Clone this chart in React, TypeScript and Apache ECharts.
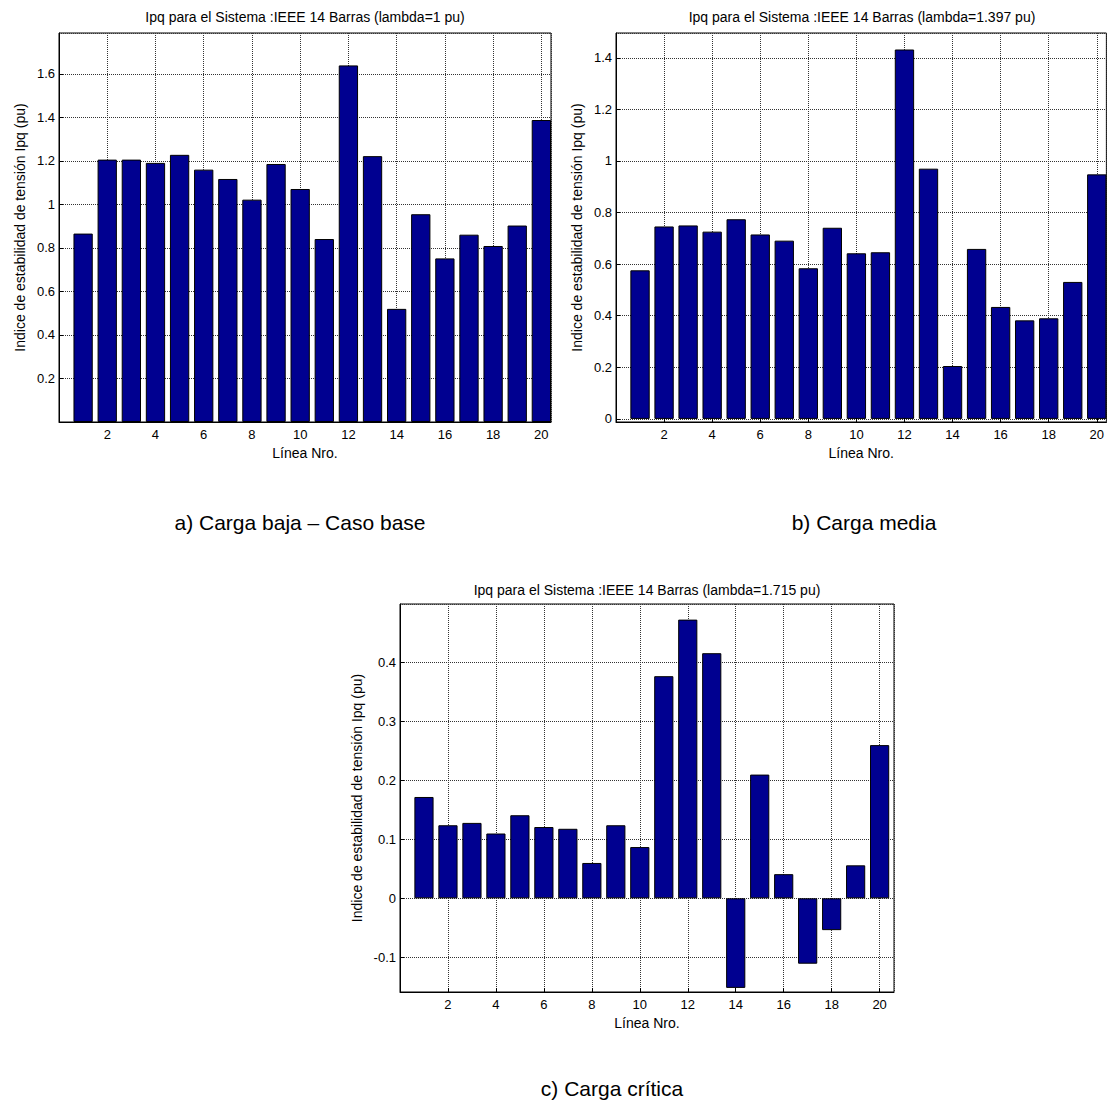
import React, { useEffect, useRef } from "react";
import * as echarts from "echarts";

// Línea numbers (x positions of the bars)
const lineas = [1, 2, 3, 4, 5, 6, 7, 8, 9, 10, 11, 12, 13, 14, 15, 16, 17, 18, 19, 20];

// Ipq per line, three loading levels
const ipqBase = [0.866, 1.206, 1.206, 1.191, 1.228, 1.16, 1.117, 1.022, 1.186, 1.071,
  0.841, 1.639, 1.222, 0.52, 0.955, 0.752, 0.861, 0.809, 0.903, 1.388];
const ipqMedia = [0.576, 0.746, 0.75, 0.726, 0.774, 0.715, 0.691, 0.584, 0.741, 0.642,
  0.646, 1.432, 0.97, 0.205, 0.659, 0.434, 0.382, 0.39, 0.531, 0.948];
const ipqCritica = [0.172, 0.124, 0.128, 0.11, 0.141, 0.121, 0.118, 0.06, 0.124, 0.087,
  0.377, 0.473, 0.416, -0.152, 0.21, 0.041, -0.111, -0.054, 0.056, 0.26];

const titulos = [
  "Ipq para el Sistema :IEEE 14 Barras (lambda=1 pu)",
  "Ipq para el Sistema :IEEE 14 Barras (lambda=1.397 pu)",
  "Ipq para el Sistema :IEEE 14 Barras (lambda=1.715 pu)",
];
const leyendas = ["a) Carga baja – Caso base", "b) Carga media", "c) Carga crítica"];
const nombreY = "Indice de estabilidad de tensión Ipq (pu)";
const nombreX = "Línea Nro.";

const FONT = "'Liberation Sans', Arial, Helvetica, sans-serif";
const BAR_COLOR = "#000090";
const TICK_SIZE = 13;
const TEXT_SIZE = 14;

type Panel = {
  left: number; top: number; width: number; height: number;
  xMax: number; yMin: number; yMax: number; yInterval?: number; ySplit?: number;
  data: number[]; nameGap: number;
};

const panels: Panel[] = [
  { left: 59, top: 33, width: 492, height: 389, xMax: 20.4, yMin: 0, yMax: 1.788, yInterval: 0.2, data: ipqBase, nameGap: 32 },
  { left: 616, top: 33, width: 493, height: 389, xMax: 20.4, yMin: -0.012, yMax: 1.496, ySplit: 7, data: ipqMedia, nameGap: 32 },
  { left: 400, top: 604, width: 494, height: 388, xMax: 20.6, yMin: -0.159, yMax: 0.4995, ySplit: 5, data: ipqCritica, nameGap: 36 },
];

const gridLine = { show: true, lineStyle: { color: "#333", width: 1, type: [1, 1] as any } };

export default function App() {
  const ref = useRef<HTMLDivElement>(null);

  useEffect(() => {
    if (!ref.current) return;
    const chart = echarts.init(ref.current, undefined, { renderer: "svg" });

    const grids = panels.map((p) => ({
      left: p.left, top: p.top, width: p.width, height: p.height,
      show: true, borderColor: "#000", borderWidth: 1, backgroundColor: "#fff",
      containLabel: false,
    }));

    const xAxes = panels.map((p, i) => ({
      type: "value", gridIndex: i, min: 0, max: p.xMax, interval: 2,
      name: nombreX, nameLocation: "middle", nameGap: 24,
      nameTextStyle: { fontFamily: FONT, fontSize: TEXT_SIZE, color: "#000" },
      axisLine: { show: true, onZero: false, lineStyle: { color: "#000", width: 1 } },
      axisTick: { show: true, inside: true, length: 4, lineStyle: { color: "#000" } },
      axisLabel: {
        fontFamily: FONT, fontSize: TICK_SIZE, color: "#000", margin: 6,
        showMinLabel: false, showMaxLabel: false,
      },
      splitLine: gridLine,
    }));

    const yAxes = panels.map((p, i) => {
      const ax: any = {
        type: "value", gridIndex: i, min: p.yMin, max: p.yMax,
        name: nombreY, nameLocation: "middle", nameGap: p.nameGap, nameRotate: 90,
        nameTextStyle: { fontFamily: FONT, fontSize: TEXT_SIZE, color: "#000" },
        axisLine: { show: true, onZero: false, lineStyle: { color: "#000", width: 1 } },
        axisTick: { show: true, inside: true, length: 4, lineStyle: { color: "#000" } },
        axisLabel: {
          fontFamily: FONT, fontSize: TICK_SIZE, color: "#000", margin: 4,
          showMinLabel: false, showMaxLabel: false,
        },
        splitLine: gridLine,
      };
      if (p.yInterval) ax.interval = p.yInterval;
      if (p.ySplit) ax.splitNumber = p.ySplit;
      return ax;
    });

    const series = panels.map((p, i) => ({
      type: "bar", xAxisIndex: i, yAxisIndex: i,
      barWidth: (p.width / p.xMax) * 0.8,
      data: lineas.map((x, k) => [x, p.data[k]]),
      itemStyle: { color: BAR_COLOR, borderColor: "#000", borderWidth: 1 },
      clip: true,
      z: 3,
    }));

    const titleCenters = [
      { x: 305, y: 10 }, { x: 862, y: 10 }, { x: 647, y: 583 },
    ];

    const captions = [
      { x: 300, y: 522 }, { x: 864, y: 522 }, { x: 612, y: 1088 },
    ];

    chart.setOption({
      animation: false,
      backgroundColor: "#fff",
      title: titulos.map((t, i) => ({
        text: t, left: titleCenters[i].x, top: titleCenters[i].y, textAlign: "center",
        padding: 0,
        textStyle: { fontFamily: FONT, fontSize: TEXT_SIZE, fontWeight: "normal", color: "#000" },
      })),
      grid: grids,
      xAxis: xAxes,
      yAxis: yAxes,
      series,
      graphic: leyendas.map((t, i) => ({
        type: "text", x: captions[i].x, y: captions[i].y,
        style: {
          text: t, fontFamily: FONT, fontSize: 21, fill: "#000",
          textAlign: "center", textVerticalAlign: "middle",
        },
      })),
    });

    return () => chart.dispose();
  }, []);

  return (
    <div
      ref={ref}
      style={{ position: "absolute", left: 0, top: 0, width: 1107, height: 1108, background: "#fff" }}
    />
  );
}
